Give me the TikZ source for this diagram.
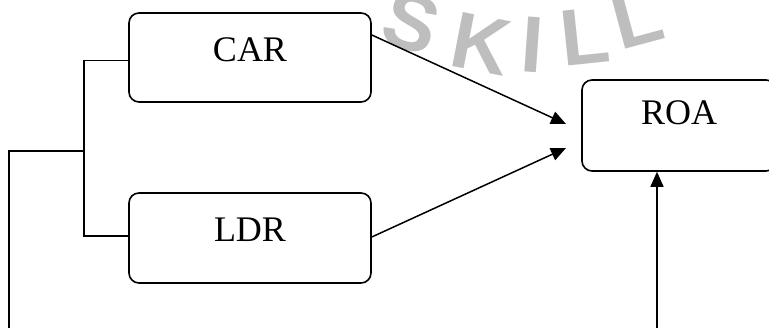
\documentclass[tikz,border=0pt]{standalone}
\usepackage{fontspec}
\setmainfont{Liberation Serif}
\newfontfamily\markfont{Liberation Sans}
\usetikzlibrary{arrows.meta}
\definecolor{markgray}{RGB}{190,190,190}
\tikzset{
  box/.style={draw, line width=1.6pt, rounded corners=10pt, inner sep=0pt},
  boxtext/.style={font=\fontsize{36}{40}\selectfont},
  link/.style={line width=1.5pt},
  arrowlink/.style={line width=1.5pt, -{Triangle[length=15pt,width=13pt]}},
  markletter/.style={text=markgray, font=\markfont\bfseries\fontsize{80}{86}\selectfont, inner sep=0pt}
}
\begin{document}
\begin{tikzpicture}[x=1pt,y=1pt]
  \useasboundingbox (0,0) rectangle (769,328);
  \clip (0,0) rectangle (769,328);

  % watermark letters set along an arc
  \node[markletter, rotate=-18] (w1) at (411,305) {S};
  \node[markletter, rotate=-11] (w2) at (481,283.5) {K};
  \node[markletter, rotate=-4]  (w3) at (533,283.5) {I};
  \node[markletter, rotate=6]   (w4) at (585,291) {L};
  \node[markletter, rotate=15]  (w5) at (637,310) {L};

  % boxes
  \node[box, minimum width=242pt, minimum height=89pt,
        label={[boxtext, yshift=7.5pt]center:CAR}] (car) at (250,270.5) {};
  \node[box, minimum width=242pt, minimum height=90pt,
        label={[boxtext, yshift=8pt]center:LDR}] (ldr) at (250,90) {};
  \node[box, minimum width=194pt, minimum height=91pt,
        label={[boxtext, yshift=12.5pt]center:ROA}] (roa) at (679,202.5) {};

  % junction and the loop under the picture
  \coordinate (jn) at (84,177);
  \coordinate (jl) at (9,177);
  \coordinate (lowl) at (9,-12);
  \coordinate (lowr) at (657,-12);
  \coordinate (t1) at (566,204);
  \coordinate (t2) at (566,180);

  \draw[link] ([yshift=-3pt]car.west) -| (jn) |- ([yshift=2pt]ldr.west);
  \draw[link] (jn) -- (jl) -- (lowl) -- (lowr);
  \draw[arrowlink] (lowr) -- (lowr |- roa.south);

  % arrows into ROA
  \draw[arrowlink] ([yshift=22.5pt]car.east) -- (t1);
  \draw[arrowlink] ([yshift=1pt]ldr.east) -- (t2);
\end{tikzpicture}
\end{document}
